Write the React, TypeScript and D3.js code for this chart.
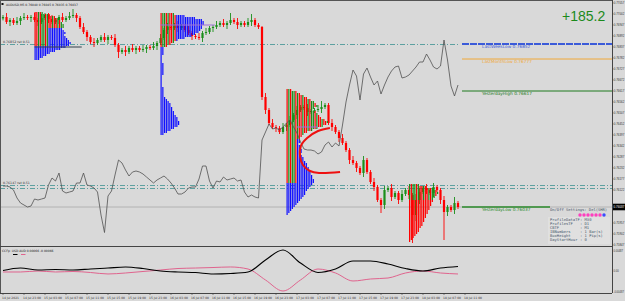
import React from "react";
import * as d3 from "d3";

// ---------- DATA ----------
const OPEN0 = 0.7698;
const CLOSES = [
  0.76987, 0.76962, 0.76972, 0.76957, 0.76967, 0.76982, 0.76987, 0.76982, 0.76987, 0.76972,
  0.76962, 0.76982, 0.76997, 0.76977, 0.76962, 0.76972, 0.76987, 0.76972, 0.76982, 0.76992,
  0.76997, 0.76982, 0.76937, 0.76912, 0.76887, 0.76862, 0.76857, 0.76872, 0.76887, 0.76872,
  0.76887, 0.76882, 0.76847, 0.76812, 0.76822, 0.76812, 0.76832, 0.76822, 0.76832, 0.76822,
  0.76827, 0.76837, 0.76832, 0.76842, 0.76857, 0.76882, 0.76922, 0.76937, 0.76932, 0.76947,
  0.76932, 0.76942, 0.76922, 0.76907, 0.76892, 0.76887, 0.76882, 0.76907, 0.76912, 0.76932,
  0.76937, 0.76947, 0.76957, 0.76947, 0.76957, 0.76972, 0.76962, 0.76947, 0.76957, 0.76947,
  0.76962, 0.76972, 0.76947, 0.76937, 0.76587, 0.76522, 0.76457, 0.76437, 0.76432, 0.76412,
  0.76437, 0.76447, 0.76472, 0.76497, 0.76522, 0.76537, 0.76532, 0.76512, 0.76517, 0.76522,
  0.76527, 0.76537, 0.76547, 0.76457, 0.76437, 0.76412, 0.76382, 0.76357, 0.76322, 0.76272,
  0.76257, 0.76232, 0.76207, 0.76272, 0.76212, 0.76162, 0.76137, 0.76072, 0.76047, 0.76122,
  0.76132, 0.76087, 0.76107, 0.76072, 0.76102, 0.76122, 0.76097, 0.75997, 0.76072, 0.76112,
  0.76132, 0.76122, 0.76107, 0.76137, 0.76122, 0.76072, 0.76012, 0.76037, 0.76022, 0.76057,
  0.76037,
];
// wick lengths in pips
const WICK_UP = [
  1, 2, 1, 1, 2, 1, 2, 1, 1, 2,
  1, 2, 1, 1, 2, 1, 1, 2, 1, 2,
  3, 1, 1, 2, 1, 1, 2, 1, 1, 2,
  1, 1, 2, 1, 1, 2, 1, 2, 1, 1,
  2, 1, 1, 2, 1, 2, 1, 2, 1, 1,
  2, 1, 1, 2, 1, 1, 2, 1, 2, 1,
  1, 2, 1, 2, 1, 3.5, 1, 2, 1, 1,
  2, 3, 1, 1, 0.5, 2, 1, 2, 1, 1,
  2, 1, 2, 1, 2, 1, 1, 2, 1, 1,
  2, 3, 1, 1, 2, 1, 1, 2, 1, 1,
  2, 1, 1, 2, 1, 1, 2, 1, 1, 2,
  1, 2, 1, 1, 2, 1, 2, 1, 3, 2,
  1, 2, 1, 2, 1, 1, 2, 1, 1, 3,
  1,
];
const WICK_DN = [
  1, 1, 2, 1, 1, 2, 1, 1, 2, 1,
  2, 1, 1, 2, 1, 1, 2, 1, 1, 1,
  1, 2, 1, 1, 2, 1, 2, 1, 1, 1,
  2, 1, 1, 3, 1, 2, 1, 1, 2, 1,
  1, 2, 1, 1, 2, 1, 1, 2, 1, 1,
  2, 1, 1, 1, 2, 1, 1, 2, 1, 1,
  2, 1, 1, 1, 2, 1, 1, 2, 1, 1,
  1, 2, 1, 1, 1.5, 2, 1, 1, 2, 1,
  1, 2, 1, 1, 2, 1, 1, 2, 1, 1,
  1, 2, 1, 1, 2, 1, 2, 1, 1, 2,
  1, 2, 1, 2, 1, 1, 2, 1, 4, 2,
  1, 2, 1, 2, 1, 1, 2, 14, 3, 2,
  1, 2, 1, 2, 1, 2, 14, 2, 1, 2,
  1,
];
// overlay (second symbol, normalised 0..100)
const OVERLAY = [
  25.6, 25.6, 25.2, 24, 20.8, 18.8, 18, 17.2, 17.6, 20.4,
  20, 20.4, 20.8, 26, 28.8, 27.6, 30.8, 23.6, 22.8, 23.2,
  23.6, 26.8, 26.8, 30.8, 26, 25.6, 24.8, 23.2, 14, 7,
  21.6, 23.6, 30, 36, 34.8, 32, 29.6, 31.2, 31.6, 31.2,
  30.4, 29.2, 28, 26.8, 28, 28.8, 29.6, 28.4, 26.8, 24.8,
  22.4, 22.4, 23.2, 24.8, 25.2, 25.2, 28.4, 33.6, 33.6, 27.6,
  24.8, 27.6, 27.2, 29.2, 28, 28.4, 28.8, 27.6, 28, 23.2,
  21.2, 22, 21.2, 20.8, 44, 47.2, 50.4, 48.4, 48.8, 48,
  49.2, 50.8, 52, 49.2, 46.8, 43.2, 40.4, 40, 40, 39.6,
  38.4, 39.2, 42, 43.2, 41.2, 42.8, 41.6, 50, 59.2, 66,
  72, 69.6, 60, 70.4, 72.8, 69.2, 66, 67.6, 62.4, 66,
  69.2, 71.6, 73.2, 73.6, 68.8, 69.2, 70, 71.6, 73.2, 75.2,
  75.2, 78.4, 76, 73.2, 72.4, 73.6, 84, 76, 65.6, 61.6,
  66,
];
// CCFp indicator, sampled every 5 bars
const CCF_USD = [
  0.00011, 0.00066, 0.00022, 0.00033, 0.00022, 0.00044, 0.00066, 0.00089, 0.00055, 0,
  -0.00022, -0.00033, -0.00066, -0.00055, -0.00022, 0.00244, 0.00465, 0.00177, -0.00033, 0.00044,
  0.00221, 0.00221, 0.00155, 0.00055, 0, 0.00066, 0.001,
];
const CCF_AUD = [
  -0.00022, -0.00022, 0, -0.00022, -0.00011, -0.00033, -0.00066, -0.00044, -0.00011, 0.00022,
  0.00055, 0.00066, 0.00077, 0.00089, 0.00044, -0.00199, -0.00443, -0.00199, 0.00044, -0.00044,
  -0.00221, -0.00177, -0.00155, -0.00044, 0, -0.00044, -0.00066,
];
const TIME_LABELS = [
  "14 Jul 2021", "14 Jul 23:00", "15 Jul 03:00", "15 Jul 07:00", "15 Jul 11:00", "15 Jul 15:00",
  "15 Jul 19:00", "15 Jul 23:00", "16 Jul 03:00", "16 Jul 07:00", "16 Jul 11:00", "16 Jul 15:00",
  "16 Jul 19:00", "16 Jul 23:00", "17 Jul 03:00", "17 Jul 07:00", "17 Jul 11:00", "17 Jul 15:00",
  "17 Jul 19:00", "17 Jul 23:00", "18 Jul 03:00", "18 Jul 07:00", "18 Jul 11:00",
];
const PRICE_TICKS = [
  0.77057, 0.77002, 0.76947, 0.76892, 0.76837, 0.76782, 0.76727, 0.76672, 0.76617, 0.76562,
  0.76507, 0.76452, 0.76397, 0.76342, 0.76287, 0.76232, 0.76177, 0.76122, 0.76067, 0.76012,
  0.75957, 0.75902, 0.75847,
];
const IND_TICKS = [0.00487, 0, -0.00487];
const LEVEL_NAMES = ["LastWeekLow", "LastMonthLow", "YesterdayHigh", "YesterdayLow"];
const LEVEL_PRICES = [0.76852, 0.76777, 0.76617, 0.76037];
const LEVEL_COLORS = ["#3b5bd9", "#f0a838", "#1f7a1f", "#2a8a2a"];
const TEAL_LEVELS = [0.76852, 0.76147, 0.76132];
const BID = 0.76037;
const PROFIT = "+185.2";

// volume / TPO profiles
const PROFILE_STARTS = [9, 45, 45, 81, 116];
const PROFILE_TOPS = [0.77007, 0.77002, 0.76832, 0.76622, 0.76147];
const P1_COUNTS = [5, 9, 12, 14, 15, 16, 17, 17, 16, 17, 18, 17, 18, 19, 20, 21, 20, 18, 15, 12, 9, 7, 5, 3];
const P2_COUNTS = [8, 14, 20, 24, 25, 25, 24, 24, 23, 22, 20, 18, 14, 10, 8, 6, 4];
const P2B_COUNTS = [
  2, 2, 2, 2, 1, 1, 1, 1, 2, 2, 2, 2, 2, 2, 1, 1, 1, 1, 1, 1, 2, 2, 2, 2, 2, 3,
  4, 5, 6, 6, 7, 7, 8, 8, 9, 10, 10, 11, 11, 10, 8, 6, 4, 2,
];
const P3_COUNTS = [
  3, 6, 8, 10, 12, 14, 16, 17, 18, 16, 15, 17, 18, 19, 20,
  22, 24, 23, 21, 18, 15, 12, 10, 9, 8, 8, 8, 7, 8, 8, 9, 9, 8, 9, 10,
  10, 11, 12, 12, 13, 13, 14, 14, 15, 15, 16, 16, 15, 14, 13,
  12, 11, 11, 10, 9, 8, 7, 6, 5, 4, 3, 2, 1,
];
const P4_COUNTS = [6, 10, 14, 16, 17, 16, 15, 14, 14, 13, 13, 12, 12, 11, 11, 10, 10, 9, 9, 8, 8, 7, 6, 6, 5, 4, 3, 2, 1];
const POC_PRICES = [0.76837, 0.76947, 0.76437];
const POC_START_BARS = [9, 45, 84];
const POC_END_BARS = [22.5, 60.5, 90];
// red bracket curve
const CURVE_BARS = [93.4, 90, 86.9, 85.1, 84.9, 85.7, 87.7, 90.3, 96.3];
const CURVE_PRICES = [0.76432, 0.76417, 0.76382, 0.76342, 0.76287, 0.76247, 0.76217, 0.76207, 0.76212];

const INFO_LINES = [
  ["ProfileDataTF", "M30"],
  ["ProfilesTF", "D1"],
  ["CBTF", "M1"],
  ["IBNumbers", "1 Bar(s)"],
  ["BoxHeight", "1 Pip(s)"],
  ["DayStartHour", "0"],
];

// ---------- STYLE ----------
const W = 625;
const H = 301;
const AXIS_X = 612;
const MAIN_B = 246;
const IND_T = 247;
const IND_B = 293;
const BG = "#d9d9d9";
const RED = "#ff0000";
const GRN = "#1a8f1a";
const BLUE = "#1010ff";
const MIX = [RED, RED, GRN, RED, GRN, GRN, RED, GRN, RED, RED, GRN];
const FONT = "DejaVu Sans, Arial, sans-serif";
const NARROW = "Liberation Sans, Arial, sans-serif";
const MONO = "DejaVu Sans Mono, monospace";

export default function App() {
  const x = d3.scaleLinear().domain([0, 130]).range([3, 458]);
  const y = d3.scaleLinear().domain([0.77072, 0.75842]).range([0, MAIN_B]);
  const yo = d3.scaleLinear().domain([0, 100]).range([250, 0]);
  const yi = d3.scaleLinear().domain([-0.00487, 0.00487]).range([IND_B, 249]);
  const pip = 0.0001;
  const unit = (x(1) - x(0)) / 2;
  const bodyW = 2.2;

  const candles = CLOSES.map((c, i) => {
    const o = i === 0 ? OPEN0 : CLOSES[i - 1];
    const h = Math.max(o, c) + WICK_UP[i] * pip;
    const l = Math.min(o, c) - WICK_DN[i] * pip;
    return { i, o, h, l, c };
  });

  const profiles = [
    { counts: P1_COUNTS, mixedUntil: 8, redCols: 8, blueFrom: 17, low: BLUE, shift: 0 },
    { counts: P2_COUNTS, mixedUntil: 0, redCols: 9, blueFrom: 99, low: BLUE, shift: 3 },
    { counts: P2B_COUNTS, mixedUntil: 0, redCols: 0, blueFrom: 0, low: BLUE, shift: 0 },
    { counts: P3_COUNTS, mixedUntil: 25, redCols: 6, blueFrom: 47, low: BLUE, shift: 1 },
    { counts: P4_COUNTS, mixedUntil: 8, redCols: 0, blueFrom: 8, low: RED, shift: 2 },
  ];

  const profileRects: JSX.Element[] = [];
  profiles.forEach((p, pi) => {
    const x0 = x(PROFILE_STARTS[pi]);
    p.counts.forEach((n, r) => {
      const py = y(PROFILE_TOPS[pi] - r * pip);
      for (let c = 0; c < n; c++) {
        const mixed = r < p.mixedUntil || (r < p.blueFrom && c < p.redCols);
        const fill = mixed ? MIX[(c + p.shift) % MIX.length] : p.low;
        profileRects.push(
          <rect key={`p${pi}-${r}-${c}`} x={x0 + c * unit} y={py - 1} width={1.2} height={2} fill={fill} />
        );
      }
    });
  });

  const overlayLine = d3
    .line<number>()
    .x((_, i) => x(i))
    .y((v) => yo(v))(OVERLAY);

  const indBars = CCF_USD.map((_, k) => k * 5);
  const indLine = (vals: number[]) =>
    d3
      .line<number>()
      .x((_, k) => x(indBars[k]))
      .y((v) => yi(v))
      .curve(d3.curveMonotoneX)(vals);

  const curvePath = d3
    .line<number>()
    .x((b) => x(b))
    .y((_, k) => y(CURVE_PRICES[k]))
    .curve(d3.curveCatmullRom)(CURVE_BARS);

  const bidY = y(BID);

  return (
    <svg
      width={W}
      height={H}
      style={{ position: "fixed", left: 0, top: 0, display: "block" }}
      xmlns="http://www.w3.org/2000/svg"
    >
      <defs>
        <clipPath id="mainClip">
          <rect x={1} y={1} width={AXIS_X - 1} height={MAIN_B - 1} />
        </clipPath>
        <clipPath id="indClip">
          <rect x={1} y={IND_T} width={AXIS_X - 1} height={IND_B - IND_T} />
        </clipPath>
      </defs>
      <rect x={0} y={0} width={W} height={H} fill={BG} />

      {/* main panel */}
      <g clipPath="url(#mainClip)">
        <line x1={0} x2={AXIS_X} y1={bidY} y2={bidY} stroke="#a8a8a8" strokeWidth={0.8} />
        {TEAL_LEVELS.map((p, k) => (
          <line
            key={`t${k}`}
            x1={0}
            x2={k === 0 ? x(130) + 2 : AXIS_X}
            y1={y(p) + 0.5}
            y2={y(p) + 0.5}
            stroke="#4f9a9a"
            strokeWidth={0.9}
            strokeDasharray="5,2,1,2"
          />
        ))}

        {candles.map((d) => {
          const up = d.c >= d.o;
          const col = up ? GRN : RED;
          const top = y(Math.max(d.o, d.c));
          const bh = Math.max(1, Math.abs(y(d.o) - y(d.c)));
          const cx = x(d.i);
          return (
            <g key={`c${d.i}`}>
              <line x1={cx} x2={cx} y1={y(d.h)} y2={y(d.l)} stroke={col} strokeWidth={0.9} />
              <rect x={cx - bodyW / 2} y={top} width={bodyW} height={bh} fill={col} />
            </g>
          );
        })}

        {profileRects}
        {POC_PRICES.map((p, k) => (
          <line
            key={`poc${k}`}
            x1={x(POC_START_BARS[k])}
            x2={x(POC_END_BARS[k])}
            y1={y(p)}
            y2={y(p)}
            stroke={k === 0 ? "#34404c" : "#a070d8"}
            strokeWidth={1}
          />
        ))}

        <path d={overlayLine || ""} fill="none" stroke="#505050" strokeWidth={0.8} />

        <path d={curvePath || ""} fill="none" stroke="#ee1010" strokeWidth={2} />

        {LEVEL_PRICES.map((p, k) => (
          <g key={`lv${k}`}>
            <line
              x1={x(130) + 4}
              x2={k === 3 ? 550 : AXIS_X}
              y1={y(p)}
              y2={y(p)}
              stroke={LEVEL_COLORS[k]}
              strokeWidth={k === 0 ? 2 : k === 3 ? 1.3 : 1}
              strokeDasharray={k === 0 ? "7,1" : undefined}
            />
            <text x={482} y={y(p) + 4.3} fontSize={4.3} fontFamily={FONT} fill={LEVEL_COLORS[k]}>
              {LEVEL_NAMES[k]}{"  "}{p.toFixed(5)}
            </text>
          </g>
        ))}

        <text x={3} y={y(TEAL_LEVELS[0]) - 0.8} fontSize={3.2} fontFamily={FONT} fill="#333">
          {TEAL_LEVELS[0].toFixed(5)} ret 0.51
        </text>
        <text x={3} y={y(TEAL_LEVELS[1]) - 0.8} fontSize={3.2} fontFamily={FONT} fill="#333">
          {TEAL_LEVELS[1].toFixed(5)} ret 0.51
        </text>

        <rect x={1.5} y={3} width={2} height={2} fill="#111" />
        <text x={6} y={5.5} fontSize={3} fontFamily={FONT} fill="#222">
          AUDUSD,M5  0.76040 0.76045 0.76035 {BID.toFixed(5)}
        </text>

        <text x={562} y={21} fontSize={14} fontFamily={NARROW} fill="#1b8a1b">
          {PROFIT}
        </text>

        <text x={550} y={211} fontSize={3.8} fontFamily={MONO} fill="#46566a">
          On/Off Settings: Del(SHR)
        </text>
        {d3.range(7).map((k) => (
          <circle key={`dot${k}`} cx={580 + k * 4} cy={215} r={1.7} fill={k === 6 ? "#3a4dff" : "#ff3fbf"} />
        ))}
        <rect x={548} y={217} width={62} height={27} fill="#e0e0e0" />
        {INFO_LINES.map((ln, k) => (
          <g key={`info${k}`}>
            <text x={550} y={221 + k * 4} fontSize={3.8} fontFamily={MONO} fill="#46566a">
              {ln[0]}
            </text>
            <text x={580} y={221 + k * 4} fontSize={3.8} fontFamily={MONO} fill="#46566a">
              : {ln[1]}
            </text>
          </g>
        ))}
      </g>

      {/* indicator panel */}
      <g clipPath="url(#indClip)">
        <path d={indLine(CCF_AUD) || ""} fill="none" stroke="#e0648e" strokeWidth={1} />
        <path d={indLine(CCF_USD) || ""} fill="none" stroke="#000" strokeWidth={1.1} />
        <text x={2} y={251.5} fontSize={3} fontFamily={FONT} fill="#222">
          CCFp: USD AUD 0.00066 -0.00066
        </text>
        <line x1={13} x2={17.5} y1={254.5} y2={254.5} stroke="#000" strokeWidth={1} />
        <line x1={21} x2={25.5} y1={254.5} y2={254.5} stroke="#e0648e" strokeWidth={1} />
      </g>

      {/* frames */}
      <line x1={0.5} x2={0.5} y1={0} y2={IND_B} stroke="#555" strokeWidth={1} />
      <line x1={0} x2={AXIS_X} y1={0.5} y2={0.5} stroke="#555" strokeWidth={1} />
      <line x1={AXIS_X + 0.5} x2={AXIS_X + 0.5} y1={0} y2={IND_B} stroke="#444" strokeWidth={1} />
      <line x1={0} x2={AXIS_X} y1={MAIN_B + 0.5} y2={MAIN_B + 0.5} stroke="#444" strokeWidth={1} />
      <line x1={0} x2={AXIS_X} y1={IND_B + 0.5} y2={IND_B + 0.5} stroke="#444" strokeWidth={1} />

      {/* right price axis */}
      {PRICE_TICKS.filter((p) => Math.abs(y(p) - bidY) > 7).map((p, k) => (
        <g key={`pt${k}`}>
          <line x1={AXIS_X} x2={AXIS_X + 1.5} y1={y(p)} y2={y(p)} stroke="#444" strokeWidth={0.6} />
          <text x={AXIS_X + 1.8} y={y(p) + 1.1} fontSize={2.9} fontFamily={NARROW} fill="#333">
            {p.toFixed(5)}
          </text>
        </g>
      ))}
      <rect x={AXIS_X + 1} y={bidY - 3.3} width={W - AXIS_X - 1} height={6.6} fill="#000" />
      <text x={AXIS_X + 1.6} y={bidY + 1.2} fontSize={3} fontFamily={NARROW} fill="#fff">
        {BID.toFixed(5)}
      </text>
      {IND_TICKS.map((v, k) => (
        <text
          key={`it${k}`}
          x={AXIS_X + 1.6}
          y={yi(v) + (k === 0 ? 2.5 : k === 2 ? -0.5 : 1.1)}
          fontSize={2.6}
          fontFamily={NARROW}
          fill="#333"
        >
          {v === 0 ? "0.00" : v.toFixed(5)}
        </text>
      ))}

      {/* time axis */}
      {TIME_LABELS.map((t, k) => (
        <g key={`tl${k}`}>
          <line x1={x(k * 6)} x2={x(k * 6)} y1={IND_B} y2={IND_B + 2} stroke="#444" strokeWidth={0.6} />
          <text x={x(k * 6) - 1} y={IND_B + 5.5} fontSize={3} fontFamily={FONT} fill="#333">
            {t}
          </text>
        </g>
      ))}
    </svg>
  );
}
